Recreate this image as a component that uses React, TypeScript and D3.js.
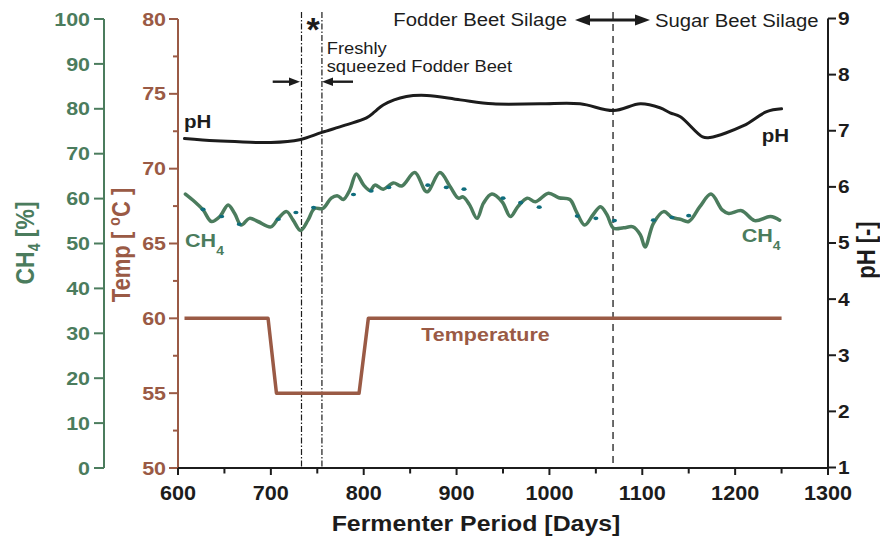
import React from 'react';
import * as d3 from 'd3';

// ---------- data ----------
const ch4Days = [608, 618, 627, 636, 645, 654, 661, 668, 677, 686, 700, 708, 717, 724, 732, 740, 747, 756, 765, 772, 778, 785, 792, 800, 807, 812, 821, 832, 841, 855, 868, 882, 893, 902, 907, 914, 922, 929, 938, 949, 958, 966, 976, 985, 999, 1010, 1022, 1029, 1038, 1047, 1055, 1062, 1069, 1080, 1090, 1098, 1103, 1112, 1123, 1132, 1141, 1150, 1162, 1174, 1186, 1193, 1207, 1221, 1238, 1248];
const ch4Values = [61.0, 59.3, 57.5, 54.9, 56.0, 58.6, 56.7, 54.1, 55.6, 54.9, 53.7, 55.6, 57.1, 55.2, 52.9, 55.2, 57.8, 57.8, 60.1, 60.6, 59.8, 61.9, 65.5, 63.0, 61.8, 63.0, 62.1, 63.5, 62.8, 65.8, 61.5, 65.8, 62.7, 60.1, 60.4, 58.6, 55.6, 59.0, 61.0, 59.3, 56.0, 58.2, 60.1, 59.3, 61.2, 60.2, 59.8, 57.1, 54.1, 56.4, 58.2, 56.4, 53.4, 53.5, 53.7, 51.9, 49.2, 54.5, 57.1, 55.8, 55.4, 54.9, 58.2, 61.0, 57.5, 56.7, 57.3, 55.1, 56.0, 55.2];

const ch4DotDays = [627, 647, 666, 708, 727, 746, 789, 808, 827, 869, 889, 908, 950, 969, 989, 1030, 1050, 1070, 1112, 1132, 1150];
const ch4DotValues = [57.6, 56.0, 54.3, 55.4, 56.9, 58.0, 60.9, 61.7, 62.5, 63.0, 62.5, 62.1, 60.1, 59.1, 58.1, 56.1, 55.6, 55.1, 55.2, 55.8, 56.2];

const phDays = [607, 640, 670, 700, 731, 755, 780, 803, 812, 821, 846, 868, 904, 939, 990, 1033, 1069, 1098, 1119, 1130, 1141, 1165, 1173, 1209, 1234, 1250];
const phValues = [6.86, 6.82, 6.80, 6.79, 6.84, 6.97, 7.10, 7.23, 7.34, 7.46, 7.61, 7.63, 7.55, 7.48, 7.48, 7.48, 7.36, 7.48, 7.41, 7.32, 7.25, 6.89, 6.88, 7.09, 7.34, 7.39];

const tempDays = [607, 697, 706, 795, 805, 1250];
const tempValues = [60, 60, 55, 55, 60, 60];

const xTicks = [600, 700, 800, 900, 1000, 1100, 1200, 1300];
const xMinorTicks = [650, 750, 850, 950, 1050, 1150, 1250];
const ch4Ticks = [0, 10, 20, 30, 40, 50, 60, 70, 80, 90, 100];
const tempTicks = [50, 55, 60, 65, 70, 75, 80];
const tempMinorTicks = [52.5, 57.5, 62.5, 67.5, 72.5, 77.5];
const phTicks = [1, 2, 3, 4, 5, 6, 7, 8, 9];

const freshStart = 733;
const freshEnd = 755;
const silageSwitch = 1068.5;

// ---------- style ----------
const W = 880, H = 537;
const FONT = '"Liberation Sans", Arial, Helvetica, sans-serif';
const SX = 1.16;
const GREEN = '#4b7c5d';
const BROWN = '#9a5a45';
const TEAL = '#0f6d7d';
const BLACK = '#1c1c1c';

const x = d3.scaleLinear().domain([600, 1300]).range([178, 828]);
const yCH4 = d3.scaleLinear().domain([0, 100]).range([468, 19]);
const yT = d3.scaleLinear().domain([50, 80]).range([468, 19]);
const yPH = d3.scaleLinear().domain([1, 9]).range([467.5, 18.5]);

type TP = { x: number; y: number; size: number; weight?: string; fill?: string; anchor?: string; sx?: number; rot?: boolean; children?: any };
function Txt({ x, y, size, weight = 'bold', fill = BLACK, anchor = 'start', sx = SX, rot = false, children }: TP) {
  const tr = rot ? `translate(${x},${y}) rotate(-90) scale(1,${sx})` : `translate(${x},${y}) scale(${sx},1)`;
  return (
    <text transform={tr} fontFamily={FONT} fontSize={size} fontWeight={weight} fill={fill} textAnchor={anchor as any}>
      {children}
    </text>
  );
}

function Arrow({ x1, x2, y, w, len, half }: { x1: number; x2: number; y: number; w: number; len: number; half: number }) {
  const dir = x2 > x1 ? 1 : -1;
  const base = x2 - dir * len;
  return (
    <g>
      <line x1={x1} y1={y} x2={base + dir * 1} y2={y} stroke={BLACK} strokeWidth={w} />
      <path d={`M${x2},${y} L${base},${y - half} L${base},${y + half} Z`} fill={BLACK} />
    </g>
  );
}

export default function App() {
  const curve = d3.curveCatmullRom.alpha(0.5);
  const ch4Line = d3.line<number>().x((d, i) => x(ch4Days[i])).y((d) => yCH4(d)).curve(curve);
  const phLine = d3.line<number>().x((d, i) => x(phDays[i])).y((d) => yPH(d)).curve(curve);
  const tLine = d3.line<number>().x((d, i) => x(tempDays[i])).y((d) => yT(d));

  const axisY = 468;

  return (
    <svg width={W} height={H} style={{ position: 'absolute', left: 0, top: 0, background: '#fff' }}>
      {/* vertical markers */}
      <line x1={x(freshStart)} x2={x(freshStart)} y1={12} y2={axisY} stroke={BLACK} strokeWidth={1.2} strokeDasharray="6,2,1.5,2" />
      <line x1={x(freshEnd)} x2={x(freshEnd)} y1={12} y2={axisY} stroke={BLACK} strokeWidth={1.2} strokeDasharray="6,2,1.5,2" />
      <line x1={x(silageSwitch)} x2={x(silageSwitch)} y1={12} y2={axisY} stroke={BLACK} strokeWidth={1.3} strokeDasharray="7,5" />

      {/* green CH4 axis */}
      <line x1={104} x2={104} y1={yCH4(100)} y2={yCH4(0)} stroke={GREEN} strokeWidth={2} />
      {ch4Ticks.map((t) => (
        <g key={'g' + t}>
          <line x1={94} x2={104} y1={yCH4(t)} y2={yCH4(t)} stroke={GREEN} strokeWidth={2} />
          <Txt x={90} y={yCH4(t) + 6.6} size={18.5} fill={GREEN} anchor="end">{t}</Txt>
        </g>
      ))}
      <Txt x={34} y={243} size={23} fill={GREEN} anchor="middle" rot>
        CH<tspan fontSize={14} dy={5}>4</tspan><tspan dy={-5}> [%]</tspan>
      </Txt>

      {/* brown temp axis */}
      <line x1={178} x2={178} y1={yT(80)} y2={yT(50)} stroke={BROWN} strokeWidth={2} />
      {tempTicks.map((t) => (
        <g key={'t' + t}>
          <line x1={169} x2={178} y1={yT(t)} y2={yT(t)} stroke={BROWN} strokeWidth={2} />
          <Txt x={166} y={yT(t) + 6.6} size={18.5} fill={BROWN} anchor="end">{t}</Txt>
        </g>
      ))}
      {tempMinorTicks.map((t) => (
        <line key={'tm' + t} x1={173} x2={178} y1={yT(t)} y2={yT(t)} stroke={BROWN} strokeWidth={2} />
      ))}
      <Txt x={130} y={245} size={22} fill={BROWN} anchor="middle" rot>
        Temp [ <tspan fontSize={14} dy={-9}>o</tspan><tspan dy={9}>C ]</tspan>
      </Txt>

      {/* right pH axis */}
      <line x1={828} x2={828} y1={yPH(9)} y2={yPH(1)} stroke={BLACK} strokeWidth={2} />
      {phTicks.map((t) => (
        <g key={'p' + t}>
          <line x1={828} x2={836} y1={yPH(t)} y2={yPH(t)} stroke={BLACK} strokeWidth={2} />
          <Txt x={838} y={yPH(t) + 6.4} size={18} fill={BLACK}>{t}</Txt>
        </g>
      ))}
      <Txt x={875} y={250} size={22} fill={BLACK} anchor="middle" rot>pH [-]</Txt>

      {/* x axis */}
      <line x1={178} x2={829} y1={axisY} y2={axisY} stroke={BLACK} strokeWidth={2} />
      {xTicks.map((t) => (
        <g key={'x' + t}>
          <line x1={x(t)} x2={x(t)} y1={axisY} y2={axisY + 7} stroke={BLACK} strokeWidth={2} />
          <Txt x={x(t)} y={500} size={21} sx={1.03} anchor="middle">{t}</Txt>
        </g>
      ))}
      {xMinorTicks.map((t) => (
        <line key={'xm' + t} x1={x(t)} x2={x(t)} y1={axisY} y2={axisY + 5.5} stroke={BLACK} strokeWidth={2} />
      ))}
      <Txt x={476} y={531} size={22} sx={1.13} anchor="middle">Fermenter Period [Days]</Txt>

      {/* series */}
      <path d={tLine(tempValues) || ''} fill="none" stroke={BROWN} strokeWidth={3.5} strokeLinejoin="round" />
      <path d={phLine(phValues) || ''} fill="none" stroke={BLACK} strokeWidth={3} strokeLinecap="round" />
      <path d={ch4Line(ch4Values) || ''} fill="none" stroke={GREEN} strokeWidth={3.5} strokeLinecap="round" />
      {ch4DotValues.map((v, i) => (
        <ellipse key={'d' + i} cx={x(ch4DotDays[i])} cy={yCH4(v)} rx={2.6} ry={1.8} fill={TEAL} />
      ))}

      {/* series labels */}
      <Txt x={184} y={127.7} size={17.7} fill={BLACK}>pH</Txt>
      <Txt x={761.7} y={141.5} size={17.7} fill={BLACK}>pH</Txt>
      <Txt x={185} y={247.3} size={18.6} fill={GREEN}>
        CH<tspan fontSize={12} dy={8}>4</tspan>
      </Txt>
      <Txt x={741.7} y={241.7} size={18.6} fill={GREEN}>
        CH<tspan fontSize={12} dy={8}>4</tspan>
      </Txt>
      <Txt x={485.5} y={341} size={18.5} fill={BROWN} anchor="middle">Temperature</Txt>

      {/* top annotations */}
      <Txt x={393.3} y={26} size={17.5} weight="normal" fill={BLACK}>Fodder Beet Silage</Txt>
      <Txt x={655} y={26.5} size={17.5} weight="normal" fill={BLACK}>Sugar Beet Silage</Txt>
      <Arrow x1={612} x2={575} y={20} w={3} len={15} half={5.5} />
      <Arrow x1={612} x2={650} y={20} w={3} len={15} half={5.5} />
      <Txt x={313} y={41} size={34} fill={BLACK} anchor="middle" sx={1}>*</Txt>
      <Txt x={326.7} y={54} size={15.8} weight="normal" fill={BLACK}>Freshly</Txt>
      <Txt x={326.7} y={71.7} size={15.8} weight="normal" fill={BLACK}>squeezed Fodder Beet</Txt>
      <Arrow x1={272.7} x2={300} y={81.7} w={2.4} len={11} half={4.3} />
      <Arrow x1={353} x2={322} y={81.7} w={2.4} len={11} half={4.3} />
    </svg>
  );
}
